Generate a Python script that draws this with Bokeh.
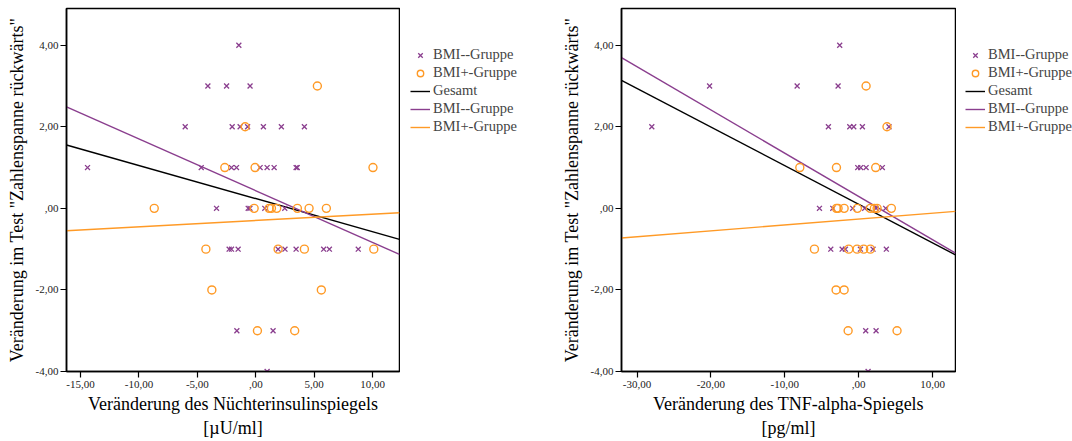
from bokeh.plotting import figure
from bokeh.models import FixedTicker, Legend, LegendItem, ColumnDataSource
from bokeh.layouts import row
from bokeh.embed import file_html
from bokeh.resources import INLINE

PURPLE = "#8A3E8E"
ORANGE = "#FF9A26"
FONT = "Liberation Serif"
NAN = float("nan")

# --- Panel 1: change in fasting insulin vs. change in digit span backwards ---
ins_minus_x = [-1.45, -4.1, -2.5, -0.49, -6.04, -2.02, -1.34, -0.7, 0.65, 2.19, 4.16,
               -14.4, -4.67, -2.08, -1.65, 0.37, 0.97, 1.57, 3.45, 3.55,
               -3.36, -0.65, -0.5, 0.77, 2.48,
               -2.28, -2.08, -1.51, 1.91, 2.5, 3.45, 5.81, 6.3, 8.77,
               -1.62, 1.48, 0.97]
ins_minus_y = [4, 3, 3, 3, 2, 2, 2, 2, 2, 2, 2,
               1, 1, 1, 1, 1, 1, 1, 1, 1,
               0, 0, 0, 0, 0,
               -1, -1, -1, -1, -1, -1, -1, -1, -1,
               -3, -3, -4]
ins_plus_x = [5.27, -0.91, -2.65, -0.06, 10.03,
              -8.69, -0.14, 1.14, 1.34, 1.79, 3.56, 4.56, 6.04,
              -4.27, 1.91, 4.16, 10.1,
              -3.76, 5.61, 0.14, 3.33]
ins_plus_y = [3, 2, 1, 1, 1,
              0, 0, 0, 0, 0, 0, 0, 0,
              -1, -1, -1, -1,
              -2, -2, -3, -3]

# --- Panel 2: change in TNF-alpha vs. change in digit span backwards ---
tnf_minus_x = [-2.57, -20.18, -8.33, -2.79, -28.0, -4.1, -1.21, -0.67, 0.5, 4.1,
               -0.13, 0.27, 1.0, 3.2,
               -5.31, -3.51, -0.81, 0.81, 2.35, 3.65,
               -3.78, -2.24, -1.8, 0.23, 1.94, 3.74,
               0.95, 2.35, 1.27]
tnf_minus_y = [4, 3, 3, 3, 2, 2, 2, 2, 2, 2,
               1, 1, 1, 1,
               0, 0, 0, 0, 0, 0,
               -1, -1, -1, -1, -1, -1,
               -3, -3, -4]
tnf_plus_x = [1.0, 3.83, -7.97, -3.01, 2.3,
              -3.01, -2.79, -1.97, -0.18, 1.58, 2.12, 2.49, 4.42,
              -5.99, -1.35, -0.22, 0.68, 1.58,
              -3.06, -1.97, -1.43, 5.19]
tnf_plus_y = [3, 2, 1, 1, 1,
              0, 0, 0, 0, 0, 0, 0, 0,
              -1, -1, -1, -1, -1,
              -2, -2, -3, -3]

# Fitted regression lines: (intercept, slope) for total, BMI- and BMI+ groups
ins_fit_total = (0.239, -0.0812)
ins_fit_minus = (0.432, -0.1269)
ins_fit_plus = (-0.297, 0.01552)
tnf_fit_total = (0.10, -0.0947)
tnf_fit_minus = (0.291, -0.1061)
tnf_fit_plus = (-0.263, 0.01448)

legend_labels = ["BMI--Gruppe", "BMI+-Gruppe", "Gesamt", "BMI--Gruppe", "BMI+-Gruppe"]

y_ticks = [-4, -2, 0, 2, 4]
ins_x_ticks = [-15, -10, -5, 0, 5, 10]
tnf_x_ticks = [-30, -20, -10, 0, 10]

Y_LABEL = "Veränderung im Test \"Zahlenspanne rückwärts\""

HEIGHT = 441
FRAME_H = 363
TOP = 8
BOTTOM = HEIGHT - FRAME_H - TOP
LEG_ROW = 16
LEG_GAP = 1
# legend anchor (screen units) inside the legend strip
LEG_Y = 236


def fmt(v):
    s = f"{abs(v):.2f}".replace(".", ",")
    if s.startswith("0"):
        s = s[1:]
    return ("-" if v < 0 else "") + s


def panel(xr, xs_m, ys_m, xs_p, ys_p, fits, xticks, xlabel, left, frame_w):
    p = figure(frame_width=frame_w, frame_height=FRAME_H, x_range=xr, y_range=(-4, 4.9),
               output_backend="svg", toolbar_location=None,
               min_border_left=left, min_border_right=1,
               min_border_top=TOP, min_border_bottom=BOTTOM)
    p.background_fill_color = "white"
    p.border_fill_color = "white"
    p.outline_line_color = "black"
    p.outline_line_width = 1.5
    p.grid.visible = False

    for ax in (p.xaxis[0], p.yaxis[0]):
        ax.axis_line_color = "black"
        ax.axis_line_width = 1.5
        ax.major_tick_line_color = "black"
        ax.major_tick_line_width = 1.2
        ax.major_tick_in = 0
        ax.major_tick_out = 6
        ax.minor_tick_line_color = None
        ax.major_label_text_font = FONT
        ax.major_label_text_font_size = "11px"
        ax.major_label_text_color = "#222222"
        ax.axis_label_text_font = FONT
        ax.axis_label_text_font_size = "18px"
        ax.axis_label_text_font_style = "normal"
        ax.axis_label_text_color = "black"

    p.yaxis.ticker = FixedTicker(ticks=y_ticks)
    p.yaxis.major_label_overrides = {t: fmt(t) for t in y_ticks}
    p.yaxis.axis_label = Y_LABEL
    p.yaxis.major_label_standoff = 2
    p.yaxis.axis_label_standoff = 6
    p.xaxis.ticker = FixedTicker(ticks=xticks)
    p.xaxis.major_label_overrides = {t: fmt(t) for t in xticks}
    p.xaxis.axis_label = xlabel
    p.xaxis.major_label_standoff = 3
    p.xaxis.axis_label_standoff = 3

    x0, x1 = xr
    for (a, b), col in zip(fits, ["black", PURPLE, ORANGE]):
        src = ColumnDataSource(dict(x=[x0, x1], y=[a + b * x0, a + b * x1]))
        p.line("x", "y", source=src, line_color=col, line_width=1.4)

    p.scatter(xs_m, ys_m, marker="x", size=7, line_color=PURPLE, line_width=1.3)
    p.scatter(xs_p, ys_p, marker="circle", size=8, fill_color=None,
              line_color=ORANGE, line_width=1.4)
    return p


def legend_column(width, offset_x):
    """A bare strip holding the legend to the right of a panel."""
    q = figure(width=width, height=HEIGHT, x_range=(0, 1), y_range=(0, 1),
               title=None, output_backend="svg", toolbar_location=None,
               x_axis_location=None, y_axis_location=None,
               min_border=0, min_border_left=0, min_border_right=0,
               min_border_top=0, min_border_bottom=0, outline_line_color=None)
    q.grid.visible = False
    q.background_fill_color = "white"
    q.border_fill_color = "white"
    # proxy renderers (no visible points) that only supply the legend glyphs
    rm = q.scatter([NAN], [NAN], marker="x", size=7, line_color=PURPLE, line_width=1.3)
    rp = q.scatter([NAN], [NAN], marker="circle", size=8, fill_color=None,
                   line_color=ORANGE, line_width=1.4)
    rl = [q.line([NAN, NAN], [NAN, NAN], line_color=c, line_width=1.4)
          for c in ("black", PURPLE, ORANGE)]
    rends = [rm, rp] + rl
    leg = Legend(items=[LegendItem(label=lab, renderers=[r])
                        for lab, r in zip(legend_labels, rends)],
                 location=(offset_x, LEG_Y))
    leg.border_line_color = None
    leg.background_fill_alpha = 0
    leg.label_text_font = FONT
    leg.label_text_font_size = "14.5px"
    leg.label_height = LEG_ROW
    leg.glyph_height = LEG_ROW
    leg.glyph_width = 20
    leg.spacing = LEG_GAP
    leg.padding = 0
    leg.margin = 0
    leg.label_standoff = 3
    q.add_layout(leg)
    return q


p1 = panel((-16.2, 12.3), ins_minus_x, ins_minus_y, ins_plus_x, ins_plus_y,
           [ins_fit_total, ins_fit_minus, ins_fit_plus], ins_x_ticks,
           "Veränderung des Nüchterinsulinspiegels\n[µU/ml]", 66, 333)
l1 = legend_column(140, 10)
p2 = panel((-32.1, 13.1), tnf_minus_x, tnf_minus_y, tnf_plus_x, tnf_plus_y,
           [tnf_fit_total, tnf_fit_minus, tnf_fit_plus], tnf_x_ticks,
           "Veränderung des TNF-alpha-Spiegels\n[pg/ml]", 81, 334)
l2 = legend_column(116, 9)

layout = row(p1, l1, p2, l2, spacing=0)
open("out.html", "w").write(file_html(layout, INLINE))
